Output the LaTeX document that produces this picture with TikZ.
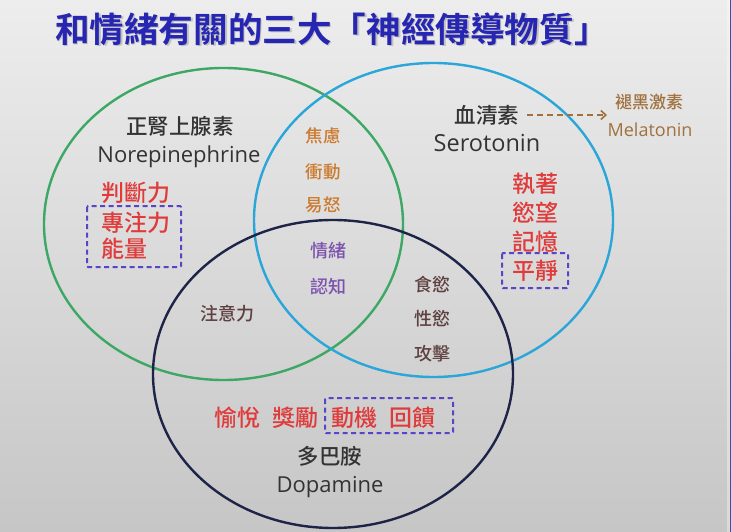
\documentclass[tikz,border=0pt]{standalone}
\usepackage{fontspec}
\setmainfont{Open Sans}
\newfontfamily\cjk{Noto Sans CJK TC Medium}
\newfontfamily\cjkb{Noto Sans CJK TC Bold}
\usetikzlibrary{arrows.meta}
\definecolor{bgtop}{HTML}{EDEDED}
\definecolor{bgmid}{HTML}{E7E7E7}
\definecolor{bgbot}{HTML}{C6C6C6}
\definecolor{edgeblue}{HTML}{3355A8}
\definecolor{titleblue}{HTML}{2626B2}
\definecolor{cgreen}{HTML}{3CA864}
\definecolor{cblue}{HTML}{2AA6D8}
\definecolor{cnavy}{HTML}{1E2448}
\definecolor{darktxt}{HTML}{333333}
\definecolor{redtxt}{HTML}{E03A3A}
\definecolor{orangetxt}{HTML}{CC7A2E}
\definecolor{purpletxt}{HTML}{7D52AE}
\definecolor{browntxt}{HTML}{5E4040}
\definecolor{meltxt}{HTML}{A0713E}
\definecolor{boxblue}{HTML}{5546C8}
\tikzset{
  ring/.style={line width=2.4pt},
  zh/.style={font=\cjk\fontsize{#1}{#1}\selectfont, inner sep=0pt},
  en/.style={font=\fontsize{#1}{#1}\selectfont, inner sep=0pt, anchor=base, text=darktxt},
  namezh/.style={zh=21.5, text=darktxt},
  keyred/.style={zh=23, text=redtxt},
  orangelbl/.style={zh=17.5, text=orangetxt},
  purplelbl/.style={zh=18, text=purpletxt},
  brownlbl/.style={zh=18, text=browntxt},
  dbox/.style={draw=boxblue, line width=2pt, dash pattern=on 5pt off 3.5pt, rounded corners=1pt},
  melarrow/.style={draw=meltxt, line width=1.8pt, dash pattern=on 6pt off 4pt, -{Straight Barb[length=5pt,width=9pt,line width=1.6pt]}}
}
\begin{document}
\begin{tikzpicture}[x=1pt,y=-1pt]
\useasboundingbox (0,0) rectangle (731,532);
\shade[top color=bgtop, middle color=bgmid, bottom color=bgbot] (0,0) rectangle (731,532);
\fill[white, opacity=0.35] (726.5,0) rectangle (729.5,532);
\fill[edgeblue] (729.5,0) rectangle (731,532);

% title
\node[font=\cjkb\fontsize{34.6}{35}\selectfont, text=black!35, opacity=0.6, inner sep=0pt] (titleshadow) at (333.5,30.5) {和情緒有關的三大「神經傳導物質」};
\node[font=\cjkb\fontsize{34.6}{35}\selectfont, text=titleblue, inner sep=0pt] (title) at (332,29) {和情緒有關的三大「神經傳導物質」};

% circles
\draw[ring, draw=cgreen] (223.5,224) ellipse [x radius=179.5pt, y radius=156pt];
\draw[ring, draw=cblue] (433.5,220) ellipse [x radius=179.5pt, y radius=157pt];
\draw[ring, draw=cnavy] (333,374) ellipse [x radius=180pt, y radius=154pt];

% norepinephrine
\node[namezh] (nezh) at (180,126) {正腎上腺素};
\node[en=22] (neen) at (179,162) {Norepinephrine};
\node[keyred, anchor=west] (judge) at (101,192.5) {判斷力};
\node[keyred, anchor=west] (focus) at (101,222.5) {專注力};
\node[keyred, anchor=west] (energy) at (101,249) {能量};
\draw[dbox] (87,206) rectangle (181,267);

% green-blue overlap
\node[orangelbl] (anx) at (323,136) {焦慮};
\node[orangelbl] (imp) at (323,171.5) {衝動};
\node[orangelbl] (irr) at (323,205) {易怒};

% center
\node[purplelbl] (emo) at (328,251) {情緒};
\node[purplelbl] (cog) at (328,286.5) {認知};

% green-navy overlap
\node[brownlbl] (att) at (227.5,313.5) {注意力};

% blue-navy overlap
\node[brownlbl] (appetite) at (432.5,285) {食慾};
\node[brownlbl] (libido) at (432.5,318.5) {性慾};
\node[brownlbl] (aggr) at (432.5,353.5) {攻擊};

% serotonin
\node[namezh] (sezh) at (487,115) {血清素};
\node[en=23.5] (seen) at (487,152) {Serotonin};
\node[zh=17, text=meltxt] (melzh) at (649,102) {褪黑激素};
\node[en=18, text=meltxt] (melen) at (650,137) {Melatonin};
\coordinate (melpt) at (607,115);
\draw[melarrow] ([xshift=8pt]sezh.east) -- (melpt);
\node[keyred] (obs) at (535,184) {執著};
\node[keyred] (desire) at (535,213) {慾望};
\node[keyred] (mem) at (535,242) {記憶};
\node[keyred] (calm) at (535,271) {平靜};
\draw[dbox] (502,253) rectangle (568,288);

% dopamine
\node[keyred] (joy) at (237.5,417.5) {愉悅};
\node[keyred] (reward) at (295.5,417.5) {獎勵};
\node[keyred] (motiv) at (354.5,417.5) {動機};
\node[keyred] (feedback) at (412.5,417.5) {回饋};
\draw[dbox] (325,398) rectangle (453,433);
\node[namezh] (dazh) at (330,456) {多巴胺};
\node[en=22] (daen) at (330,492) {Dopamine};
\end{tikzpicture}
\end{document}
